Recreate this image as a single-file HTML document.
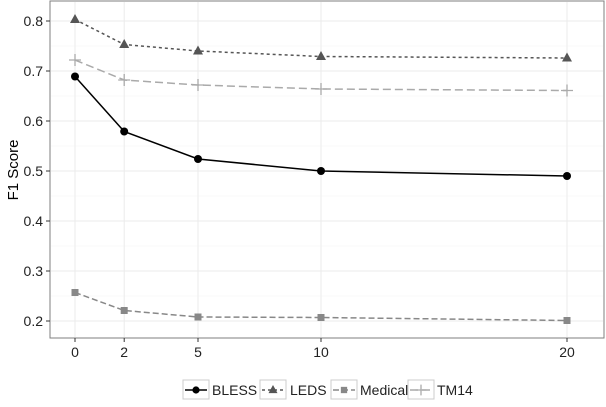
<!DOCTYPE html>
<html><head><style>
body{margin:0;background:#fff;}
svg{font-family:"Liberation Sans",sans-serif;}
</style></head><body>
<svg id="c" width="606" height="402">
<rect x="50" y="1" width="554" height="337" fill="#fff" stroke="#7f7f7f"/>
<g id="grid"></g><g id="axes"></g><g id="series"></g>
<text x="18" y="170" font-size="15" text-anchor="middle" transform="rotate(-90 18 170)">F1 Score</text>
<g id="legend"></g>
</svg>
<script>
const xs=[0,2,5,10,20];
const bless=[0.689,0.579,0.524,0.500,0.490];
const leds=[0.803,0.753,0.740,0.729,0.726];
const tm14=[0.722,0.682,0.672,0.664,0.661];
const medical=[0.257,0.221,0.208,0.207,0.201];
const yTicks=[0.2,0.3,0.4,0.5,0.6,0.7,0.8];
const xTicks=[0,2,5,10,20];
const seriesNames=["BLESS","LEDS","Medical","TM14"];
const NS="http://www.w3.org/2000/svg";
const X=v=>75+v*(567-75)/20;
const Y=v=>321-(v-0.2)*500;
function mk(t,a,p){const e=document.createElementNS(NS,t);for(const k in a)e.setAttribute(k,a[k]);p.appendChild(e);return e;}
const grid=document.getElementById('grid'),axes=document.getElementById('axes'),ser=document.getElementById('series'),leg=document.getElementById('legend');
for(let i=0;i<yTicks.length;i++){const y=Y(yTicks[i]);
 const g=mk('line',{x1:51,x2:603,y1:y,y2:y,stroke:'#ebebeb','stroke-width':1},grid);
 
 if(i<yTicks.length-1){const m=mk('line',{x1:51,x2:603,y1:y-25,y2:y-25,stroke:'#f5f5f5','stroke-width':0.6},grid);}
 const t=mk('line',{x1:46,x2:50,y1:y,y2:y,stroke:'#333'},axes);
 const l=mk('text',{x:43,y:y+5,'font-size':14,'text-anchor':'end',fill:'#222'},axes);l.textContent=yTicks[i].toFixed(1);
 }
for(const v of xTicks){const x=X(v);
 const g=mk('line',{x1:x,x2:x,y1:2,y2:337,stroke:'#ebebeb'},grid);
 const t=mk('line',{x1:x,x2:x,y1:338,y2:342,stroke:'#333'},axes);
 const l=mk('text',{x:x,y:357,'font-size':14,'text-anchor':'middle',fill:'#222'},axes);l.textContent=v;
 }
const styles=[
 {d:bless,c:'#000',dash:'',shape:'circle',name:'bless'},
 {d:leds,c:'#555',dash:'3,3',shape:'tri',name:'leds'},
 {d:medical,c:'#888',dash:'6,3',shape:'sq',name:'medical'},
 {d:tm14,c:'#aaa',dash:'8,4',shape:'plus',name:'tm14'}];
function marker(s,x,y,p,sz){sz=sz||1;let e;
 if(s.shape=='circle')e=mk('circle',{cx:x,cy:y,r:4*sz,fill:s.c},p);
 else if(s.shape=='tri')e=mk('polygon',{points:`${x},${y-5.5*sz} ${x-5*sz},${y+3.5*sz} ${x+5*sz},${y+3.5*sz}`,fill:s.c},p);
 else if(s.shape=='sq')e=mk('rect',{x:x-3.5*sz,y:y-3.5*sz,width:7*sz,height:7*sz,fill:s.c},p);
 else e=mk('path',{d:`M${x-6*sz} ${y}H${x+6*sz}M${x} ${y-6*sz}V${y+6*sz}`,stroke:s.c,'stroke-width':1.3},p);
 return e;}
for(const s of styles){const pts=xs.map((v,i)=>X(v)+','+Y(s.d[i])).join(' ');
 const pl=mk('polyline',{points:pts,fill:'none',stroke:s.c,'stroke-width':1.5,'stroke-dasharray':s.dash},ser);
 
 xs.forEach((v,i)=>{const m=marker(s,X(v),Y(s.d[i]),ser);});}
const keyX=[183,260,331,408],txtX=[212,290,360,437];
styles.forEach((s,i)=>{const g=mk('g',{},leg);
 mk('rect',{x:keyX[i],y:380,width:26,height:19,fill:'#fff',stroke:'#ccc'},g);
 mk('line',{x1:keyX[i]+2,x2:keyX[i]+24,y1:390,y2:390,stroke:s.c,'stroke-width':1.5,'stroke-dasharray':s.dash},g);
 marker(s,keyX[i]+13,390,g,0.9);
 const t=mk('text',{x:txtX[i],y:395,'font-size':14,fill:'#222'},g);t.textContent=seriesNames[i];});
</script>
</body></html>
